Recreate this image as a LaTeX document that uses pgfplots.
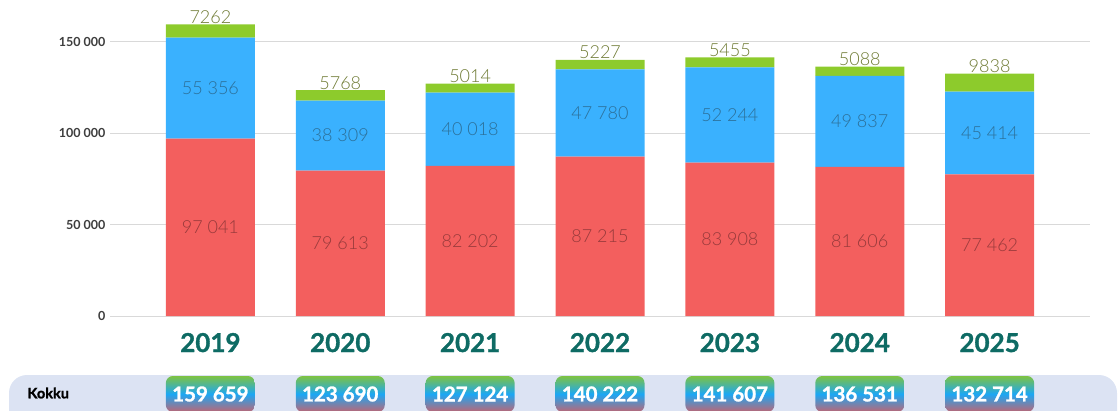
\documentclass[border=0pt]{standalone}
\usepackage{fontspec}
\setmainfont{Lato}
\newfontfamily\heavy[FakeBold=1.2]{Lato Bold}
\newfontfamily\light{Lato Light}
\usepackage{pgfplots}
\usepackage{pgfplotstable}
\pgfplotsset{compat=1.18}

\definecolor{cred}{HTML}{F35F5E}
\definecolor{cblue}{HTML}{3AB1FE}
\definecolor{cgreen}{HTML}{8DCB2C}
\definecolor{tred}{HTML}{973A3B}
\definecolor{tblue}{HTML}{2C6F98}
\definecolor{tgreen}{HTML}{6E7A33}
\definecolor{yearc}{HTML}{0E6B64}
\definecolor{band}{HTML}{DCE3F3}
\definecolor{gridc}{HTML}{D9D9D9}
\definecolor{tickc}{HTML}{3D3D3D}
\definecolor{badgetop}{HTML}{7DC242}
\definecolor{badgemid}{HTML}{1CA7F4}
\definecolor{badgebot}{HTML}{BE6674}

\pgfplotstableread{
i year red blue green total
0 2019 97041 55356 7262 159659
1 2020 79613 38309 5768 123690
2 2021 82202 40018 5014 127124
3 2022 87215 47780 5227 140222
4 2023 83908 52244 5455 141607
5 2024 81606 49837 5088 136531
6 2025 77462 45414 9838 132714
}\data

\pgfplotsset{
  base/.style={
    at={(110pt,94pt)}, anchor=south west,
    scale only axis, width=980pt, height=306pt,
    xmin=-0.773, xmax=6.773, ymin=0, ymax=167500,
    enlargelimits=false,
    /pgf/number format/.cd, fixed, precision=0, 1000 sep={\ },
      min exponent for 1000 sep=4, assume math mode=true,
    /pgfplots/.cd,
    scaled ticks=false,
  },
  lab/.style={draw=none, mark=none, nodes near coords, point meta=explicit},
}

\begin{document}
\begin{tikzpicture}
\useasboundingbox (0,0) rectangle (1119pt,410pt);
\fill[band, rounded corners=18pt] (9pt,-40pt) rectangle (1117pt,35pt);
\node[anchor=west, font=\fontsize{14.5}{16}\selectfont\heavy] at (24pt,17pt) {Kokku};

\begin{axis}[base,
    ybar stacked, bar width=89pt,
    axis line style={draw=none}, major tick length=0pt,
    ymajorgrids, grid style={gridc, line width=1pt},
    ytick={0,50000,100000,150000},
    yticklabels={0,50 000,100 000,150 000},
    yticklabel style={anchor=east, xshift=-1pt, font=\fontsize{12.5}{14}\selectfont\bfseries, text=tickc},
    xtick=data, xticklabels from table={\data}{year},
    xticklabel style={font=\fontsize{26}{28}\selectfont\heavy, text=yearc, anchor=base, yshift=-36pt},
  ]
\addplot[fill=cred, draw=none] table[x=i, y=red]{\data};
\addplot[fill=cblue, draw=none] table[x=i, y=blue]{\data};
\addplot[fill=cgreen, draw=none] table[x=i, y=green]{\data};
\end{axis}

\begin{axis}[base, hide axis, clip=false]
\addplot[lab, every node near coord/.style={anchor=center, text=tred, font=\fontsize{18}{20}\selectfont\light}]
  table[x=i, y expr=\thisrow{red}/2, meta=red]{\data};
\addplot[lab, every node near coord/.style={anchor=center, text=tblue, font=\fontsize{18}{20}\selectfont\light}]
  table[x=i, y expr=\thisrow{red}+\thisrow{blue}/2, meta=blue]{\data};
\addplot[lab, every node near coord/.style={anchor=base, inner sep=0pt, yshift=1pt, text=tgreen, font=\fontsize{18}{20}\selectfont\light}]
  table[x=i, y expr=\thisrow{red}+\thisrow{blue}+\thisrow{green}, meta=green]{\data};
\addplot[lab, every node near coord/.style={anchor=center, text=white, font=\fontsize{20.5}{22}\selectfont\heavy,
    top color=badgetop, bottom color=badgebot, middle color=badgemid,
    rounded corners=7pt, minimum width=89pt, minimum height=36pt, inner sep=0pt}]
  table[x=i, y expr=-42700, meta=total]{\data};
\end{axis}
\end{tikzpicture}
\end{document}
